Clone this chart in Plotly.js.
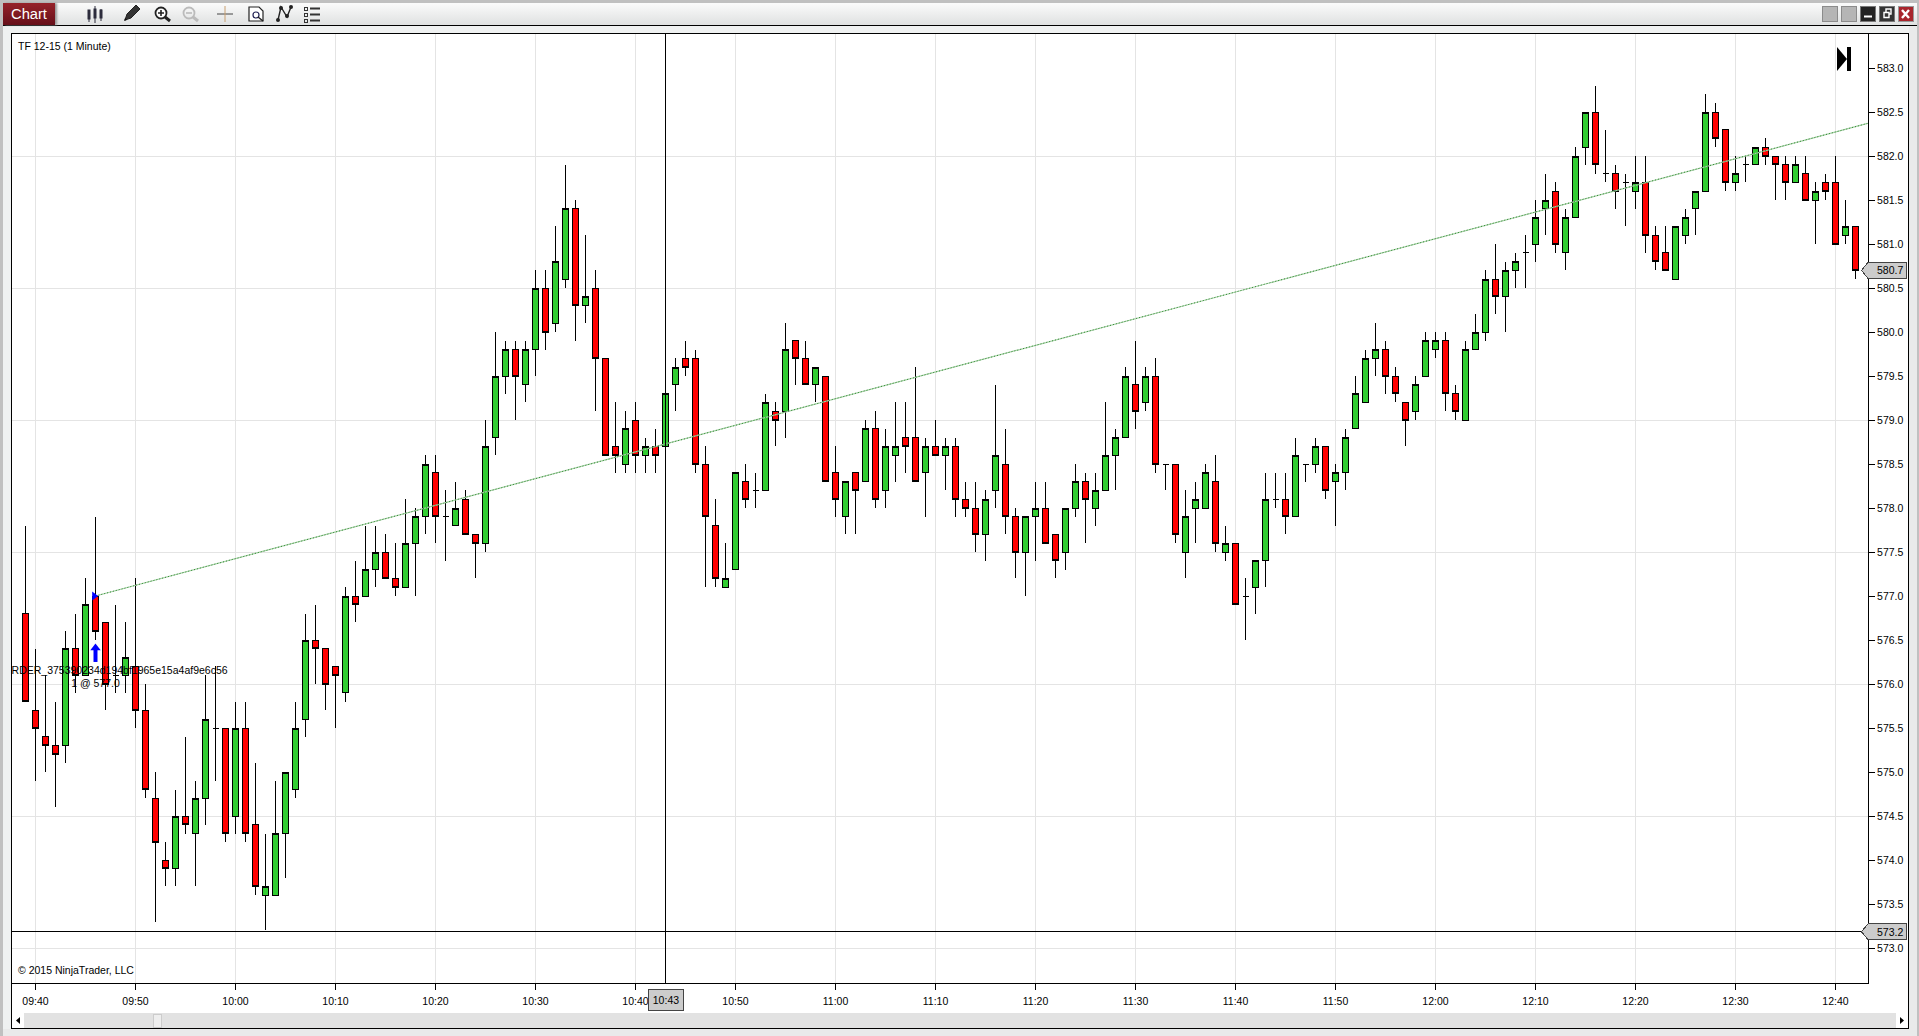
<!DOCTYPE html>
<html><head><meta charset="utf-8">
<script src="https://cdn.plot.ly/plotly-3.0.1.min.js"></script>
<style>
html,body{margin:0;padding:0;width:1919px;height:1036px;overflow:hidden;background:#eff1f1;font-family:"Liberation Sans",Arial,sans-serif}
.abs{position:absolute;box-sizing:border-box}
#plot{position:absolute;left:0;top:0;width:1919px;height:1036px}
#plot .boxlayer path,#plot .shapelayer path{shape-rendering:crispEdges !important}
</style></head><body>
<div class="abs" style="left:11px;top:33px;width:1898px;height:996px;background:#fff;border:1px solid #000"></div>
<div class="abs" style="left:0;top:1029px;width:1919px;height:7px;background:#e9eaea"></div>
<div class="abs" style="left:1909px;top:26px;width:10px;height:1010px;background:#e9eaea"></div>
<div class="abs" style="left:1869px;top:34px;width:39px;height:994px;background:#fff"></div>
<div id="plot"></div>
<!-- window frame and toolbar -->
<div class="abs" style="left:0;top:0;width:1919px;height:3px;background:#c0c0c0"></div>
<div class="abs" style="left:0;top:0;width:3px;height:1036px;background:#c0c0c0"></div>
<div class="abs" style="left:1917px;top:0;width:2px;height:1036px;background:#c0c0c0"></div>
<div class="abs" style="left:3px;top:3px;width:1914px;height:23px;background:linear-gradient(#fbfbfb,#dfe1e1);border-bottom:1px solid #000"></div>
<div class="abs" style="left:3px;top:3px;width:52px;height:22px;background:linear-gradient(#96222a,#66101a);color:#fff;font-size:14.7px;line-height:22px;text-align:center;box-shadow:2px 0 2px #999">Chart</div>
<svg class="abs" style="left:0;top:0" width="1919" height="26" viewBox="0 0 1919 26">
 <g fill="#2c2c3c" stroke="#2c2c3c">
  <path d="M89 11v11M95 6v17M101 9v12" stroke-width="1" fill="none"/>
  <rect x="88" y="10" width="2" height="9"/><rect x="94" y="9" width="2" height="9"/><rect x="100" y="10" width="2" height="8"/>
 </g>
 <path d="M125 20l2-6 9-9 4 4-9 9z" fill="#333" stroke="#222"/>
 <path d="M124 21l3-1-2-2z" fill="#111"/>
 <circle cx="161" cy="13" r="5.5" fill="#fff" stroke="#222" stroke-width="1.8"/>
 <path d="M165 17l5 4" stroke="#222" stroke-width="3"/><path d="M158 13h6M161 10v6" stroke="#222" stroke-width="1.6"/>
 <circle cx="189" cy="13" r="5.5" fill="none" stroke="#bbb" stroke-width="1.8"/>
 <path d="M193 17l5 4" stroke="#bbb" stroke-width="3"/><path d="M186 13h6" stroke="#bbb" stroke-width="1.6"/>
 <path d="M217 14h16" stroke="#444" stroke-width="1"/><path d="M225 6v16" stroke="#c9a070" stroke-width="1"/>
 <path d="M249 7h10l4 4v10h-14z" fill="#fff" stroke="#222" stroke-width="1.2"/>
 <circle cx="256" cy="15" r="3" fill="none" stroke="#225" stroke-width="1.2"/><path d="M258 17l5 4" stroke="#222" stroke-width="1.4"/>
 <path d="M278 20l3-13 6 10 4-10" stroke="#222" stroke-width="1.4" fill="none"/>
 <circle cx="278" cy="20" r="2" fill="#222"/><circle cx="281" cy="8" r="2" fill="#222"/><circle cx="287" cy="16" r="2" fill="#222"/><circle cx="291" cy="7" r="2" fill="#222"/>
 <g fill="none" stroke="#333"><rect x="304.5" y="7.5" width="3" height="3"/><rect x="304.5" y="13.5" width="3" height="3"/><rect x="304.5" y="19.5" width="3" height="3"/></g>
 <path d="M310 8.500h10M310 14.500h10M310 20.500h10" stroke="#333" stroke-width="2"/>
 <g>
  <rect x="1822.500" y="6.500" width="15" height="15" fill="#b5b5b5" stroke="#8b8b8b"/>
  <rect x="1841.500" y="6.500" width="15" height="15" fill="#b5b5b5" stroke="#8b8b8b"/>
  <rect x="1860.500" y="6.500" width="15" height="15" fill="#222" stroke="#777"/>
  <path d="M1864 16.500h8" stroke="#fff" stroke-width="2"/>
  <rect x="1879.500" y="6.500" width="15" height="15" fill="#333" stroke="#777"/>
  <path d="M1884 12.500h5v5h-5zM1886 12v-3h5v5h-2" stroke="#fff" stroke-width="1.4" fill="none"/>
  <rect x="1898.500" y="6.500" width="15" height="15" fill="#a8252c" stroke="#999"/>
  <path d="M1902 10l7 8M1909 10l-7 8" stroke="#fff" stroke-width="2.4"/>
 </g>
</svg>
<svg class="abs" style="left:1837px;top:47px" width="15" height="25"><path d="M0 0L10 12L0 24z" fill="#000"/><rect x="10" y="0" width="4" height="24" fill="#000"/></svg>
<!-- scrollbar -->
<div class="abs" style="left:12px;top:1013px;width:1896px;height:15px;background:#e2e2e2"></div>
<svg class="abs" style="left:12px;top:1013px" width="1896" height="15">
 <rect x="0" y="0" width="12" height="15" fill="#fff"/><path d="M8 4v7l-4-3.500z" fill="#000"/>
 <rect x="1884" y="0" width="12" height="15" fill="#fff"/><path d="M1888 4v7l4-3.500z" fill="#000"/>
 <rect x="141.500" y="1.500" width="8" height="13" fill="#eee" stroke="#ccc"/>
</svg>
<script>
const day = '2015-10-30 ';
const firstBarMinute = 9 * 60 + 39;
const opens = [
576.8,575.7,575.4,575.3,575.3,576.4,576.1,577.0,576.7,576.1,
576.1,576.2,575.7,574.7,574.0,573.9,574.5,574.3,574.7,575.5,
575.5,574.5,575.5,574.4,573.6,573.6,574.3,574.8,575.6,576.5,
576.4,576.2,575.9,577.0,577.0,577.3,577.5,577.2,577.1,577.6,
577.9,578.4,577.9,577.8,578.1,577.7,577.6,578.8,579.5,579.8,
579.4,579.8,580.5,580.1,580.6,581.4,580.3,580.5,579.7,578.7,
578.5,579.0,578.6,578.7,578.7,579.4,579.7,579.7,578.5,577.8,
577.1,577.3,578.3,578.2,578.2,579.1,579.1,579.9,579.7,579.4,
579.5,578.4,577.9,578.4,578.3,578.9,578.2,578.6,578.8,578.8,
578.4,578.7,578.6,578.7,578.1,578.0,577.7,578.2,578.5,577.9,
577.5,577.9,578.0,577.7,577.5,578.0,578.3,578.0,578.2,578.6,
578.8,579.4,579.2,579.5,578.5,578.5,577.5,578.0,578.0,578.3,
577.5,577.6,577.0,577.1,577.4,578.1,578.1,577.9,578.5,578.5,
578.7,578.3,578.4,578.9,579.2,579.7,579.8,579.5,579.2,579.1,
579.5,579.8,579.9,579.3,579.0,579.8,580.0,580.6,580.4,580.7,
580.9,581.0,581.4,581.6,580.9,581.3,582.1,582.5,581.8,581.8,
581.7,581.6,581.7,581.1,580.9,580.6,581.1,581.4,581.6,582.5,
582.3,581.7,581.9,581.9,582.1,582.0,581.9,581.7,581.8,581.5,
581.7,581.7,581.1,581.2];
const highs = [
577.8,576.4,576.1,575.8,576.6,576.8,577.2,577.9,576.7,576.9,
576.7,577.2,576.0,575.0,574.2,574.8,575.4,574.9,576.1,576.2,
575.5,575.8,575.8,575.1,574.3,574.9,575.0,575.8,576.8,576.9,
576.4,576.2,577.1,577.4,577.8,577.8,577.7,577.6,578.1,578.0,
578.6,578.6,578.2,578.3,578.2,577.7,579.0,580.0,579.9,579.9,
579.9,580.7,580.7,581.2,581.9,581.5,581.1,580.7,579.7,579.2,
579.1,579.2,578.8,578.9,579.4,579.7,579.9,579.8,578.7,578.1,
577.6,578.4,578.5,578.4,579.3,579.2,580.1,579.9,579.9,579.6,
579.5,578.7,578.3,578.4,579.0,579.1,578.9,579.2,579.2,579.6,
578.8,579.0,578.8,578.8,578.3,578.3,578.2,579.4,578.9,578.0,
577.9,578.3,578.3,577.7,578.0,578.5,578.4,578.4,579.2,578.9,
579.6,579.9,579.6,579.7,578.5,578.5,578.2,578.3,578.5,578.6,
577.8,577.6,577.2,577.4,578.4,578.4,578.4,578.8,578.5,578.8,
578.7,578.5,578.9,579.5,579.8,580.1,579.9,579.6,579.2,579.5,
580.0,580.0,580.0,579.4,579.9,580.2,580.7,581.0,580.8,580.9,
581.1,581.5,581.8,581.7,581.4,582.1,582.5,582.8,582.3,581.9,
581.8,582.0,582.0,581.2,581.2,581.2,581.4,581.6,582.7,582.6,
582.3,582.0,582.0,582.1,582.2,582.0,582.0,582.0,582.0,581.7,
581.8,582.0,581.5,581.2];
const lows = [
575.8,574.9,575.0,574.6,575.1,575.9,576.1,576.5,575.7,575.9,
575.9,575.5,574.7,573.3,573.7,573.7,574.3,573.7,574.4,574.9,
574.2,574.3,574.2,573.6,573.2,573.6,573.8,574.7,575.4,576.0,
575.7,575.5,575.8,576.7,577.0,577.1,577.2,577.0,577.1,577.0,
577.7,577.6,577.4,577.8,577.7,577.2,577.5,578.6,579.3,579.0,
579.2,579.5,579.8,580.0,580.5,579.9,580.1,579.1,578.6,578.4,
578.4,578.4,578.4,578.4,578.7,579.1,579.5,578.4,577.1,577.1,
577.1,577.3,578.0,578.0,578.2,578.7,578.8,579.4,579.4,579.2,
578.3,577.9,577.7,577.7,578.3,578.0,578.0,578.3,578.4,578.3,
577.9,578.6,578.2,577.9,577.9,577.5,577.4,578.0,577.7,577.2,
577.0,577.4,577.6,577.2,577.3,577.9,577.6,577.8,578.2,578.2,
578.8,578.9,579.1,578.4,578.2,577.6,577.2,577.6,578.0,577.5,
577.4,576.9,576.5,576.8,577.1,578.0,577.7,577.9,578.3,578.4,
578.1,577.8,578.2,578.9,579.2,579.5,579.3,579.2,578.7,579.0,
579.5,579.7,579.1,579.0,579.0,579.8,579.9,580.2,580.0,580.5,
580.5,580.8,581.1,580.9,580.7,581.3,581.9,581.8,581.7,581.4,
581.2,581.4,580.9,580.7,580.7,580.6,581.0,581.1,581.6,582.1,
581.6,581.6,581.7,581.9,581.9,581.5,581.5,581.7,581.5,581.0,
581.5,581.0,581.0,580.6];
const closes = [
575.8,575.5,575.3,575.2,576.4,576.1,576.9,576.6,576.0,576.1,
576.3,575.7,574.8,574.2,573.9,574.5,574.4,574.7,575.6,575.5,
574.3,575.5,574.3,573.7,573.7,574.3,575.0,575.5,576.5,576.4,
576.0,576.1,577.0,576.9,577.3,577.5,577.2,577.1,577.6,577.9,
578.5,577.9,577.9,578.0,577.7,577.6,578.7,579.5,579.8,579.5,
579.8,580.5,580.0,580.8,581.4,580.3,580.4,579.7,578.6,578.6,
578.9,578.6,578.7,578.6,579.3,579.6,579.6,578.5,577.9,577.2,
577.2,578.4,578.1,578.2,579.2,579.0,579.8,579.7,579.4,579.6,
578.3,578.1,578.3,578.2,578.9,578.1,578.7,578.7,578.7,578.3,
578.7,578.6,578.7,578.1,578.0,577.7,578.1,578.6,577.9,577.5,
577.9,578.0,577.6,577.4,578.0,578.3,578.1,578.2,578.6,578.8,
579.5,579.1,579.5,578.5,578.5,577.7,577.9,578.1,578.4,577.6,
577.6,576.9,577.0,577.4,578.1,578.1,577.9,578.6,578.5,578.7,
578.2,578.4,578.8,579.3,579.7,579.8,579.5,579.3,579.0,579.4,
579.9,579.9,579.3,579.1,579.8,580.0,580.6,580.4,580.7,580.8,
580.9,581.3,581.5,581.0,581.3,582.0,582.5,581.9,581.8,581.6,
581.7,581.7,581.1,580.8,580.7,581.2,581.3,581.6,582.5,582.2,
581.7,581.8,581.9,582.1,582.0,581.9,581.7,581.9,581.5,581.6,
581.6,581.0,581.2,580.7];
const timeTicks = ['09:40','09:50','10:00','10:10','10:20','10:30','10:40','10:50','11:00','11:10','11:20','11:30','11:40','11:50','12:00','12:10','12:20','12:30','12:40'];
const priceTicks = [573,573.5,574,574.5,575,575.5,576,576.5,577,577.5,578,578.5,579,579.5,580,580.5,581,581.5,582,582.5,583];
const priceGrid = [573,574.5,576,577.5,579,580.5,582];
const trendTimes = ['09:46:00','12:43:12'];
const trendPrices = [577.0,582.37];
const entryTime = '09:46:00';
const entryPrice = 577.0;
const crossTime = '10:43:00';
const crossPrice = 573.185;
const lastPrice = 580.7;

const pad = n => String(n).padStart(2,'0');
const times = opens.map((_, i) => { const m = firstBarMinute + i; return day + pad(Math.floor(m/60)) + ':' + pad(m%60) + ':00'; });
const L = 12, R = 1868, T = 34, B = 983, W = 1919, H = 1036;
const xp = px => (px - L) / (R - L);
const yp = py => (B - py) / (B - T);
const FONT = 'Liberation Sans, Arial, sans-serif';
const FS = 10.5;

const candle = {
  type: 'candlestick', x: times, open: opens, high: highs, low: lows, close: closes,
  whiskerwidth: 0, hoverinfo: 'skip', showlegend: false,
  increasing: {fillcolor: '#32cd32', line: {color: '#000', width: 1}},
  decreasing: {fillcolor: '#ff0000', line: {color: '#000', width: 1}}
};
const trendX = trendTimes.map(t => day + t);
const trendPale = {type:'scatter', mode:'lines', x:trendX, y:trendPrices, line:{color:'#a8d0a8', width:1.2}, hoverinfo:'skip', showlegend:false};
const trendDots = {type:'scatter', mode:'lines', x:trendX, y:trendPrices, line:{color:'#2e8b2e', width:1, dash:'1px,2px'}, hoverinfo:'skip', showlegend:false};
const entryMark = {type:'scatter', mode:'markers', x:[day+'09:45:52'], y:[entryPrice], marker:{symbol:'triangle-right', size:8, color:'#0000ff'}, hoverinfo:'skip', showlegend:false};
const arrowHead = {type:'scatter', mode:'markers', x:[day+entryTime], y:[576.41], marker:{symbol:'triangle-up', size:9, color:'#0000ff'}, hoverinfo:'skip', showlegend:false};
const arrowShaft = {type:'scatter', mode:'markers', x:[day+entryTime], y:[576.33], marker:{symbol:'line-ns', size:10, line:{color:'#0000ff', width:4}}, hoverinfo:'skip', showlegend:false};
const orderText = {type:'scatter', mode:'text', x:[day+'09:48:00', day+entryTime], y:[576.14, 576.0],
  text:['ORDER_375390234d194bf1965e15a4af9e6c56','1 @ 577.0'], textposition:'middle center',
  textfont:{family:FONT, size:FS, color:'#000'}, cliponaxis:true, hoverinfo:'skip', showlegend:false};

function priceFlag(p) {
  const h = 8 / 88;
  const a = xp(1861.5), b = xp(1868), c = xp(1906.5);
  return {type:'path', xref:'paper', yref:'y', layer:'above',
    path:`M ${a} ${p} L ${b} ${p+h} L ${c} ${p+h} L ${c} ${p-h} L ${b} ${p-h} Z`,
    fillcolor:'#cccccc', line:{color:'#444', width:1}};
}
function priceLabel(p) {
  return {xref:'paper', yref:'y', x:xp(1875), y:p, xanchor:'left', yanchor:'middle', showarrow:false,
    text:p.toFixed(1), font:{family:FONT, size:FS, color:'#000'}};
}
const gridShapes = priceGrid.map(p => ({type:'line', xref:'paper', yref:'y', x0:0, x1:1, y0:p, y1:p, layer:'below', line:{color:'#e4e4e4', width:1}}));

const layout = {
  width: W, height: H, autosize:false,
  margin:{l:L, r:W-R, t:T, b:H-B, pad:0},
  paper_bgcolor:'rgba(0,0,0,0)', plot_bgcolor:'#ffffff',
  showlegend:false, dragmode:false, boxgap:0.4, boxgroupgap:0,
  font:{family:FONT, size:FS, color:'#000'},
  xaxis:{type:'date', range:[day+'09:37:39', day+'12:43:15'], rangeslider:{visible:false},
    tickmode:'array', tickvals:timeTicks.map(t=>day+t+':00'), ticktext:timeTicks,
    showgrid:true, gridcolor:'#e4e4e4', gridwidth:1, zeroline:false,
    showline:true, linecolor:'#000', linewidth:1, mirror:true,
    ticks:'outside', ticklen:6, tickwidth:1, tickcolor:'#000',
    ticklabelstandoff:2, tickfont:{family:FONT, size:FS, color:'#000'}},
  yaxis:{range:[583-(B-68)/88, 583+(68-T)/88], side:'right',
    tickmode:'array', tickvals:priceTicks, ticktext:priceTicks.map(p=>p.toFixed(1)),
    showgrid:false, zeroline:false,
    showline:true, linecolor:'#000', linewidth:1, mirror:true,
    ticks:'outside', ticklen:6, tickwidth:1, tickcolor:'#000',
    ticklabelstandoff:0, tickfont:{family:FONT, size:FS, color:'#000'}},
  shapes: gridShapes.concat([
    {type:'line', xref:'x', yref:'paper', x0:day+crossTime, x1:day+crossTime, y0:0, y1:1, layer:'above', line:{color:'#000', width:1}},
    {type:'line', xref:'paper', yref:'y', x0:0, x1:1, y0:crossPrice, y1:crossPrice, layer:'above', line:{color:'#000', width:1}},
    priceFlag(lastPrice), priceFlag(crossPrice)
  ]),
  annotations:[
    {xref:'paper', yref:'paper', x:xp(16), y:yp(46), xanchor:'left', yanchor:'middle', showarrow:false, text:'TF 12-15 (1 Minute)', font:{family:FONT,size:FS,color:'#000'}},
    {xref:'paper', yref:'paper', x:xp(16), y:yp(970), xanchor:'left', yanchor:'middle', showarrow:false, text:'© 2015 NinjaTrader, LLC', font:{family:FONT,size:FS,color:'#000'}},
    priceLabel(lastPrice), priceLabel(crossPrice),
    {xref:'x', yref:'paper', x:day+crossTime, y:yp(1000), xanchor:'center', yanchor:'middle', showarrow:false,
      text:'10:43', font:{family:FONT,size:FS,color:'#000'}, bgcolor:'#cccccc', bordercolor:'#444', borderwidth:1, width:32, height:18}
  ]
};
Plotly.newPlot('plot', [candle, trendPale, trendDots, entryMark, arrowShaft, arrowHead, orderText], layout, {staticPlot:true, displayModeBar:false});
</script>
</body></html>
